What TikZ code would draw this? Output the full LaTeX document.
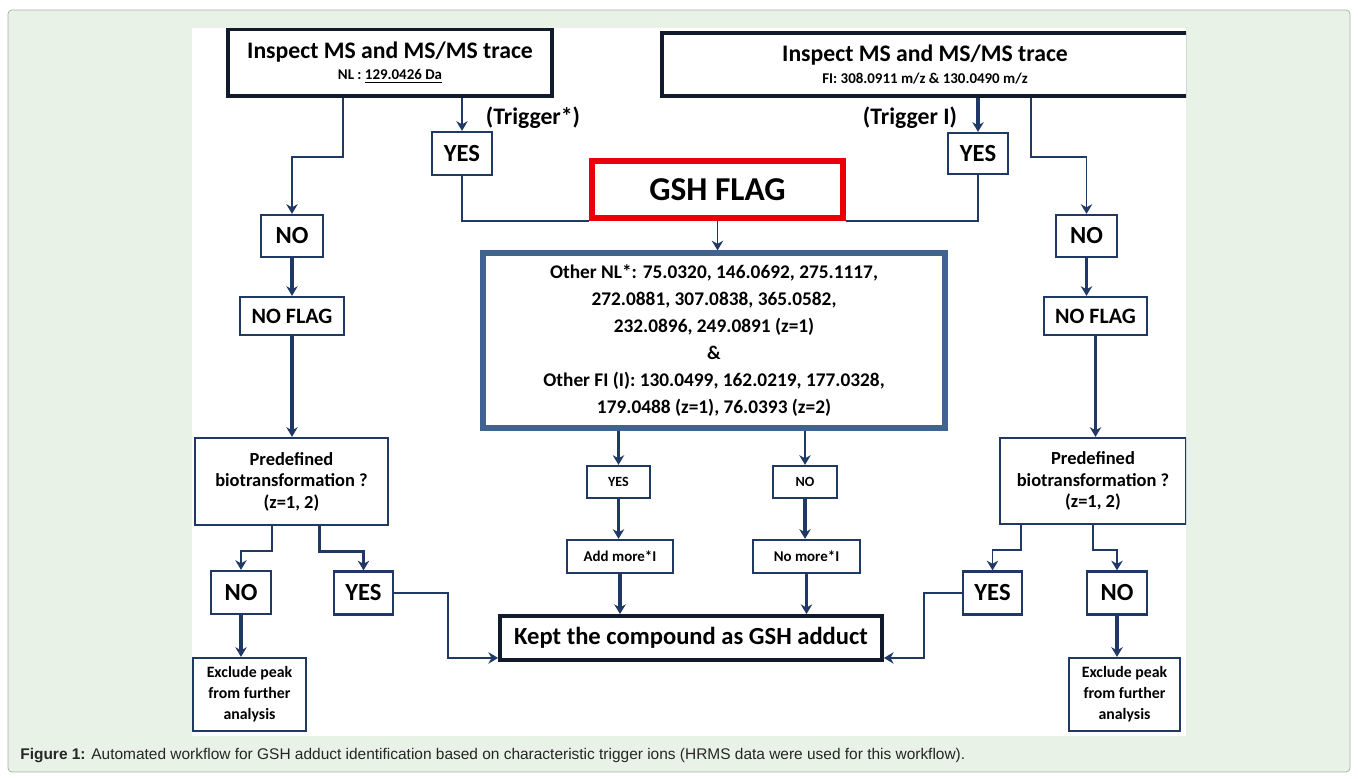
\documentclass[tikz,border=0pt]{standalone}
\usepackage{fontspec}
\setmainfont{Carlito}
\newfontfamily\legende{Liberation Sans}
\usetikzlibrary{arrows.meta}

\definecolor{fondvert}{HTML}{E9F2E7}
\definecolor{bordgris}{HTML}{A7ADA6}
\definecolor{bleufonce}{HTML}{1F3864}
\definecolor{bleuacier}{HTML}{41638F}
\definecolor{noirbleu}{HTML}{121B2C}
\definecolor{rougeflag}{HTML}{E8000B}

\newlength\pxl
\setlength\pxl{0.02cm}
\newcommand\tcorps[2]{\fontsize{#1}{#2}\selectfont}

\begin{document}
\begin{tikzpicture}[x=0.02cm,y=-0.02cm,
  boite/.style={draw=bleufonce,line width=1.3pt,fill=white,inner sep=0pt,align=center,font=\bfseries},
  haut/.style={boite,draw=noirbleu,line width=2.2pt},
  trig/.style={inner sep=0pt,font=\bfseries\tcorps{13.5}{15}},
  fin/.style={draw=bleufonce,line width=1pt},
  epais/.style={draw=bleufonce,line width=1.8pt},
  pointe/.style={-{Stealth[length=5.5pt,width=6.5pt]}}]

\useasboundingbox (0,0) rectangle (1358,778);

%Cadre de la figure
\draw[bordgris,fill=fondvert,rounded corners=4\pxl] (8,10) rectangle (1350,772);
\fill[white] (192,28) rectangle (1186,736);

\begin{scope}
\clip (192,28) rectangle (1186,736);

%%% Boites du haut %%%
\node[haut,minimum width=324\pxl,minimum height=67\pxl] (tl) at (390,62.5)
  {{\tcorps{13.5}{14}Inspect MS and MS/MS trace}\\{\tcorps{8.5}{10}NL : \underline{129.0426 Da}}};
\node[haut,minimum width=526\pxl,minimum height=63\pxl] (tr) at (925,64.5)
  {{\tcorps{13.5}{14}Inspect MS and MS/MS trace}\\{\tcorps{8.5}{10}FI: 308.0911 m/z \& 130.0490 m/z}};

\node[trig] (trigL) at (533,118) {(Trigger*)};
\node[trig] (trigR) at (910,118) {(Trigger I)};

\node[boite,minimum width=60\pxl,minimum height=43\pxl,font=\bfseries\tcorps{14}{16}] (yesL) at (462,153.5) {YES};
\node[boite,minimum width=60\pxl,minimum height=41\pxl,font=\bfseries\tcorps{14}{16}] (yesR) at (978,153.5) {YES};

%GSH flag
\node[boite,draw=rougeflag,line width=3.2pt,minimum width=251\pxl,minimum height=57\pxl,font=\bfseries\tcorps{19}{21}] (gsh) at (717.5,189.5) {GSH FLAG};

%Autres pertes neutres et fragments
\node[boite,draw=bleuacier,line width=3pt,minimum width=462\pxl,minimum height=175\pxl,font=\bfseries\tcorps{11}{15.3}] (centre) at (714,340.5)
  {Other NL*: 75.0320, 146.0692, 275.1117,\\272.0881, 307.0838, 365.0582,\\232.0896, 249.0891 (z=1)\\\&\\Other FI (I): 130.0499, 162.0219, 177.0328,\\179.0488 (z=1), 76.0393 (z=2)};

%%% Branche gauche %%%
\node[boite,minimum width=62\pxl,minimum height=42\pxl,font=\bfseries\tcorps{14}{16}] (noL) at (292,236) {NO};
\node[boite,minimum width=104\pxl,minimum height=38\pxl,font=\bfseries\tcorps{12.5}{14}] (nfL) at (292,316) {NO FLAG};
\node[boite,minimum width=193\pxl,minimum height=87\pxl,font=\bfseries\tcorps{10.5}{12.2}] (predL) at (291.5,481.5) {Predefined\\biotransformation ?\\(z=1, 2)};
\node[boite,minimum width=60\pxl,minimum height=43\pxl,font=\bfseries\tcorps{14}{16}] (noBL) at (241,592.5) {NO};
\node[boite,minimum width=59\pxl,minimum height=43\pxl,font=\bfseries\tcorps{14}{16}] (yesBL) at (363.5,593) {YES};
\node[boite,minimum width=113\pxl,minimum height=73\pxl,font=\bfseries\tcorps{9}{12}] (exL) at (249.5,694.5) {Exclude peak\\from further\\analysis};

%%% Branche droite %%%
\node[boite,minimum width=61\pxl,minimum height=42\pxl,font=\bfseries\tcorps{14}{16}] (noR) at (1086.5,236) {NO};
\node[boite,minimum width=103\pxl,minimum height=38\pxl,font=\bfseries\tcorps{12.5}{14}] (nfR) at (1095.5,316) {NO FLAG};
\node[boite,minimum width=186\pxl,minimum height=86\pxl,font=\bfseries\tcorps{10.5}{12.2}] (predR) at (1093,481) {Predefined\\biotransformation ?\\(z=1, 2)};
\node[boite,minimum width=59\pxl,minimum height=43\pxl,font=\bfseries\tcorps{14}{16}] (yesBR) at (992.5,593) {YES};
\node[boite,minimum width=60\pxl,minimum height=43\pxl,font=\bfseries\tcorps{14}{16}] (noBR) at (1117,593) {NO};
\node[boite,minimum width=111\pxl,minimum height=73\pxl,font=\bfseries\tcorps{9}{12}] (exR) at (1124.5,694.5) {Exclude peak\\from further\\analysis};

%%% Milieu %%%
\node[boite,minimum width=63\pxl,minimum height=32\pxl,font=\bfseries\tcorps{8}{10}] (ysm) at (618.5,482) {YES};
\node[boite,minimum width=64\pxl,minimum height=32\pxl,font=\bfseries\tcorps{8}{10}] (nsm) at (805,482) {NO};
\node[boite,minimum width=106\pxl,minimum height=33\pxl,font=\bfseries\tcorps{8.5}{10}] (add) at (620,556.5) {Add more*I};
\node[boite,minimum width=107\pxl,minimum height=33\pxl,font=\bfseries\tcorps{8.5}{10}] (nomore) at (806.5,556.5) {No more*I};
\node[haut,minimum width=382\pxl,minimum height=44\pxl,font=\bfseries\tcorps{14}{16}] (kept) at (691,638) {Kept the compound as GSH adduct};

%%% Liaisons %%%
\draw[fin,pointe] ([xshift=117\pxl]tl.south west) -- ++(0,59) -| (noL.north);
\draw[fin,pointe] (tl.south -| yesL.north) -- (yesL.north);
\draw[epais,pointe] (tr.south -| yesR.north) -- (yesR.north);
\draw[fin,pointe] ([xshift=371\pxl]tr.south west) -- ++(0,59) -| (noR.north);
\draw[fin] (yesL.south) |- (gsh.south west);
\draw[fin] (yesR.south) |- (gsh.south east);
\draw[fin,pointe] (gsh.south) -- (gsh.south |- centre.north);

\draw[epais,pointe] (noL.south) -- (noL.south |- nfL.north);
\draw[epais,pointe] (nfL.south) -- (nfL.south |- predL.north);
\draw[epais,pointe] (noR.south) -- (noR.south |- nfR.north);
\draw[epais,pointe] (nfR.south) -- (nfR.south |- predR.north);

\draw[fin,pointe] ([xshift=78\pxl]predL.south west) -- ++(0,25) -| (noBL.north);
\draw[epais,pointe] ([xshift=126\pxl]predL.south west) -- ++(0,25) -| (yesBL.north);
\draw[fin,pointe] ([xshift=22\pxl]predR.south west) -- ++(0,25) -| (yesBR.north);
\draw[fin,pointe] ([xshift=94\pxl]predR.south west) -- ++(0,25) -| (noBR.north);

\draw[epais,pointe] (noBL.south) -- (noBL.south |- exL.north);
\draw[epais,pointe] (noBR.south) -- (noBR.south |- exR.north);
\draw[fin,pointe] (yesBL.east) -- ++(54,0) |- ([yshift=4\pxl]kept.south west);
\draw[fin,pointe] (yesBR.west) -- ++(-38,0) |- ([yshift=4\pxl]kept.south east);

\draw[epais,pointe] (centre.south -| ysm.north) -- (ysm.north);
\draw[fin,pointe] (centre.south -| nsm.north) -- (nsm.north);
\draw[epais,pointe] (ysm.south) -- (ysm.south |- add.north);
\draw[epais,pointe] (nsm.south) -- (nsm.south |- nomore.north);
\draw[epais,pointe] (add.south) -- (add.south |- kept.north);
\draw[epais,pointe] (nomore.south) -- (nomore.south |- kept.north);
\end{scope}

%Légende
\node[anchor=west,inner sep=0pt,text=black!85,font=\legende\tcorps{8.8}{10}] (legende) at (20,756)
  {\textbf{Figure 1:} Automated workflow for GSH adduct identification based on characteristic trigger ions (HRMS data were used for this workflow).};

\end{tikzpicture}
\end{document}
